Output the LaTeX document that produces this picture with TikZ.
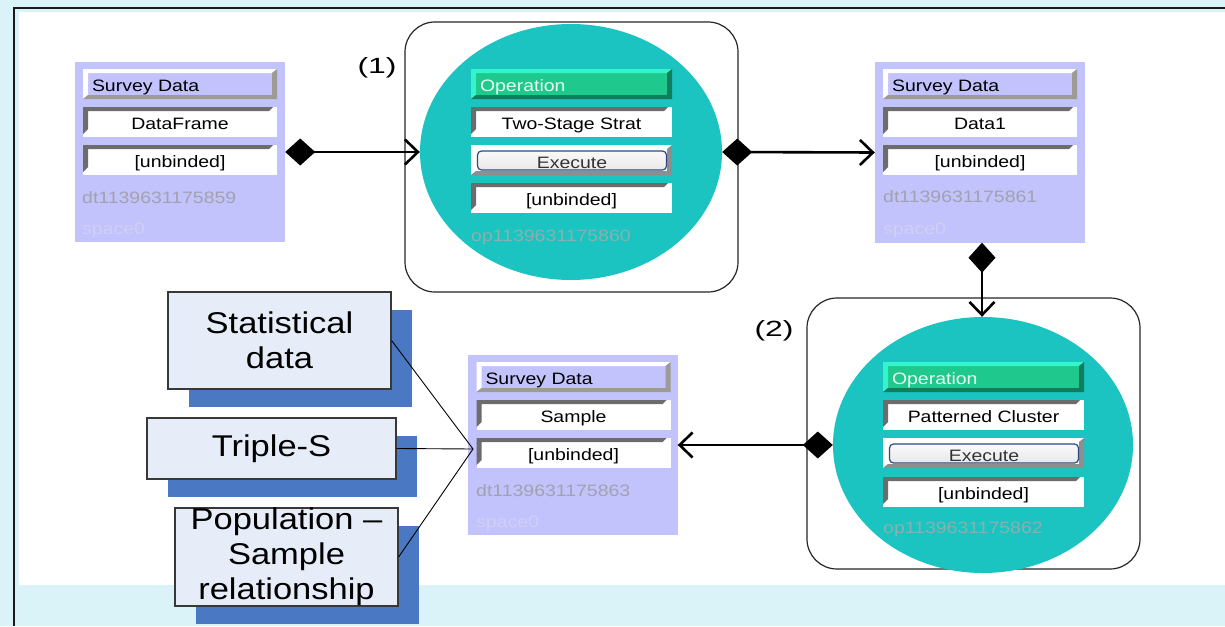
\documentclass[tikz,border=0pt]{standalone}
\usepackage{fontspec}
\usetikzlibrary{arrows.meta,shapes.geometric,shadows}
\newfontfamily\uifont{Liberation Sans}[FakeStretch=1.18]
\newfontfamily\calfont{Liberation Sans}[FakeStretch=1.15]
\newfontfamily\numfont{Liberation Sans}[FakeStretch=1.45]

\definecolor{bgcyan}{HTML}{DAF3F8}
\definecolor{lav}{HTML}{C2C2FC}
\definecolor{hdgray}{HTML}{9C9C94}
\definecolor{fdark}{HTML}{6C6C6C}
\definecolor{tealop}{HTML}{1BC3C1}
\definecolor{opgreen}{HTML}{1FC88C}
\definecolor{oplight}{HTML}{33F5CB}
\definecolor{opdark}{HTML}{137C5C}
\definecolor{optext}{HTML}{E8FFF6}
\definecolor{execgray}{HTML}{8E8E8E}
\definecolor{btnborder}{HTML}{2A4A86}
\definecolor{idgray}{HTML}{A2A2AE}
\definecolor{spacegray}{HTML}{D0D0F6}
\definecolor{opid}{HTML}{88B2AC}
\definecolor{callfill}{HTML}{E7EDF8}
\definecolor{callshadow}{HTML}{4A78C2}

\tikzset{
  ui/.style={font=\uifont\fontsize{16.5pt}{19pt}\selectfont, text height=15pt, text depth=0pt},
  % sunken input field: dark bevel on top and left
  sunken/.style={path picture={
    \fill[fdark] (path picture bounding box.north west)
      -- ([xshift=-4pt]path picture bounding box.north east)
      -- ([shift={(-8pt,-4pt)}]path picture bounding box.north east)
      -- ([shift={(5pt,-4pt)}]path picture bounding box.north west)
      -- ([shift={(5pt,8pt)}]path picture bounding box.south west)
      -- ([yshift=3pt]path picture bounding box.south west) -- cycle;}},
  % raised panel: light bevel top-left, dark bevel bottom-right
  raised/.style 2 args={path picture={
    \fill[#1] (path picture bounding box.north west)
      -- (path picture bounding box.north east)
      -- ([shift={(-5pt,-4pt)}]path picture bounding box.north east)
      -- ([shift={(5pt,-4pt)}]path picture bounding box.north west)
      -- ([shift={(5pt,4pt)}]path picture bounding box.south west)
      -- (path picture bounding box.south west) -- cycle;
    \fill[#2] (path picture bounding box.north east)
      -- (path picture bounding box.south east)
      -- (path picture bounding box.south west)
      -- ([shift={(5pt,4pt)}]path picture bounding box.south west)
      -- ([shift={(-5pt,4pt)}]path picture bounding box.south east)
      -- ([shift={(-5pt,-4pt)}]path picture bounding box.north east) -- cycle;}},
  sdbox/.style={fill=lav, minimum width=210pt, minimum height=180pt, inner sep=0pt},
  sdhead/.style={ui, fill=lav, raised={white}{hdgray}, text width=176pt,
    inner xsep=9pt, inner ysep=0pt, minimum height=30pt, align=left},
  field/.style={ui, fill=white, sunken, minimum width=#1, minimum height=30pt, inner sep=0pt},
  field/.default=194pt,
  ophead/.style={ui, fill=opgreen, raised={oplight}{opdark}, text=optext, text width=183pt,
    inner xsep=9pt, inner ysep=0pt, minimum height=30pt, align=left},
  execrow/.style={fill=white, raised={white}{execgray}, minimum width=201pt,
    minimum height=30pt, inner sep=0pt},
  button/.style={ui, draw=btnborder, line width=1.2pt, rounded corners=4pt,
    top color=white!96!gray, bottom color=white!82!gray, text=black!80,
    minimum width=189pt, minimum height=19pt, inner sep=0pt},
  idtext/.style={ui, text height=, text depth=, text=idgray, inner sep=0pt},
  spacetext/.style={ui, text height=, text depth=, text=spacegray, inner sep=0pt},
  opidtext/.style={ui, text height=, text depth=, text=opid, inner sep=0pt},
  opframe/.style={draw=black!85, line width=1.2pt, rounded corners=30pt,
    minimum width=333pt, inner sep=0pt},
  opdisc/.style={ellipse, fill=tealop, inner sep=0pt},
  conn/.style={line width=2.6pt,
    arrows={Diamond[length=30pt,width=27pt]-Straight Barb[length=13pt,width=25pt]}},
  callout/.style={draw=black!78, line width=1.2pt, fill=callfill, align=center,
    font=\calfont\fontsize{30pt}{35pt}\selectfont, inner sep=0pt,
    general shadow={fill=callshadow, shadow xshift=21pt, shadow yshift=-18pt}},
  callline/.style={draw=black, line width=0.9pt},
  numlbl/.style={font=\numfont\fontsize{22pt}{24pt}\selectfont, inner sep=0pt}
}

\begin{document}
\begin{tikzpicture}[x=1pt, y=-1pt]
\useasboundingbox (0,0) rectangle (1225,626);

% page background and working area
\fill[bgcyan] (0,0) rectangle (1225,626);
\fill[white] (19,12) rectangle (1225,585);
\draw[black!90, line width=1.8pt] (14,626) -- (14,8) -- (1225,8);

% operation frames and discs
\node[opframe, minimum height=270pt] (op1f) at (571.5,157) {};
\node[opframe, minimum height=271pt] (op2f) at (973.5,433.5) {};
\node[opdisc, minimum width=302pt, minimum height=256pt] (op1e) at (571,152) {};
\node[opdisc, minimum width=300pt, minimum height=256pt] (op2e) at (983,445) {};

% operation 1
\node[ophead] (op1h) at (571.5,84) {Operation};
\node[field=201pt] (op1n) at (571.5,122) {Two-Stage Strat};
\node[execrow] (op1x) at (571.5,160) {};
\node[button] (op1btn) at (572,160.5) {Execute};
\node[field=201pt] (op1b) at (571.5,198) {[unbinded]};
\node[opidtext, anchor=base west] (op1id) at (471,241) {op1139631175860};

% operation 2
\node[ophead] (op2h) at (983.5,377) {Operation};
\node[field=201pt] (op2n) at (983.5,415) {Patterned Cluster};
\node[execrow] (op2x) at (983.5,453) {};
\node[button] (op2btn) at (984,453.5) {Execute};
\node[field=201pt] (op2b) at (983.5,492) {[unbinded]};
\node[opidtext, anchor=base west] (op2id) at (883,533) {op1139631175862};

% survey data 1
\node[sdbox] (dt1) at (180,152) {};
\node[sdhead] (dt1h) at (180,84) {Survey Data};
\node[field] (dt1n) at (180,122) {DataFrame};
\node[field] (dt1b) at (180,160) {[unbinded]};
\node[idtext, anchor=base west] (dt1id) at (82,203) {dt1139631175859};
\node[spacetext, anchor=base west] (dt1sp) at (82,234) {space0};

% survey data 2
\node[sdbox] (dt2) at (980,152.5) {};
\node[sdhead] (dt2h) at (980,84) {Survey Data};
\node[field] (dt2n) at (980,122) {Data1};
\node[field] (dt2b) at (980,160) {[unbinded]};
\node[idtext, anchor=base west] (dt2id) at (883,202) {dt1139631175861};
\node[spacetext, anchor=base west] (dt2sp) at (883,234) {space0};

% survey data 3
\node[sdbox] (dt3) at (572.5,445) {};
\node[sdhead] (dt3h) at (573.5,377) {Survey Data};
\node[field] (dt3n) at (573.5,415) {Sample};
\node[field] (dt3b) at (573.5,453) {[unbinded]};
\node[idtext, anchor=base west] (dt3id) at (476,496) {dt1139631175863};
\node[spacetext, anchor=base west] (dt3sp) at (476,527) {space0};

% data flow
\draw[conn] (dt1.east) -- (op1e.west);
\draw[conn] (op1e.east) -- (dt2.west);
\draw[conn] (dt2.south -| 982,0) -- (op2e.north -| 982,0);
\draw[conn] (op2e.west) -- (dt3.east);

% step labels
\node[numlbl] (lbl1) at (377,68) {(1)};
\node[numlbl] (lbl2) at (774,331) {(2)};

% annotation callouts
\node[callout, minimum width=223pt, minimum height=97pt] (stat) at (279.5,340.5) {Statistical\\data};
\node[callout, minimum width=249pt, minimum height=61pt] (trip) at (271.5,448.5) {Triple-S};
\node[callout, minimum width=223pt, minimum height=98pt] (pop) at (286.5,557) {Population –\\Sample\\relationship};
\coordinate (hub) at (473,449);
\draw[callline] (stat.east) -- (hub);
\draw[callline] (trip.east) -- (hub);
\draw[callline] (pop.east) -- (hub);
\end{tikzpicture}
\end{document}
